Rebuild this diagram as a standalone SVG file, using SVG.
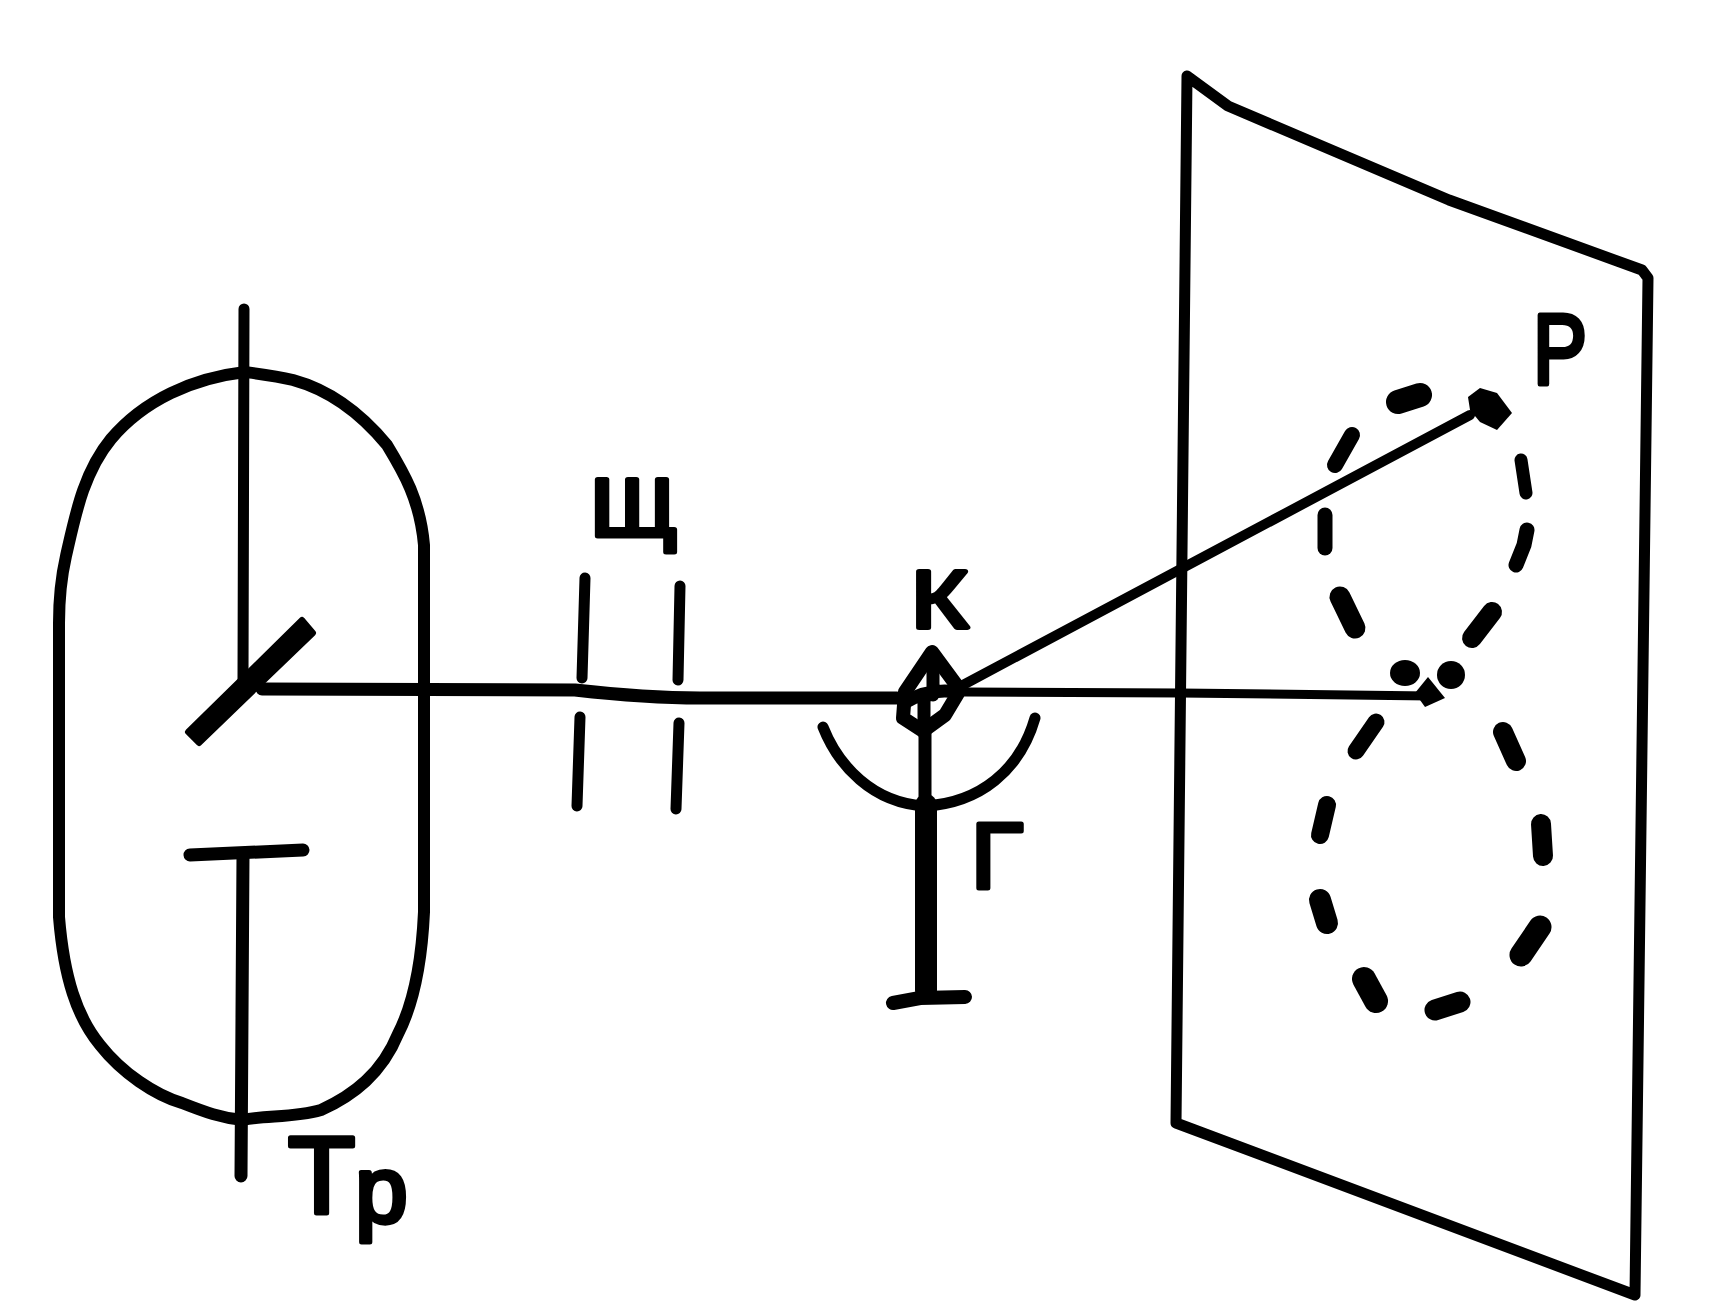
<svg xmlns="http://www.w3.org/2000/svg" width="1735" height="1304" viewBox="0 0 1735 1304">
<style>
.l{fill:none;stroke:#000;stroke-linecap:round;stroke-linejoin:round}
.t{font-family:"Liberation Sans",Arial,sans-serif;fill:#000;stroke:#000;stroke-width:5;stroke-linejoin:round}
</style>
<rect width="1735" height="1304" fill="#fff"/>
<g id="tube">
<path class="l" stroke-width="12" d="M245 372C193 378 144 400 111 439C83 473 75 517 66 556C61 578 59 600 59 623L59 917C64 978 77 1017 100 1045C122 1073 155 1095 182 1103C205 1112 221 1118 243 1120C265 1115 293 1118 321 1110C354 1095 382 1073 398 1034C415 1001 422 956 424 912L424 545C420 500 404 473 387 445C359 411 326 389 293 380C276 376 260 374 245 372Z"/>
<path class="l" stroke-width="11" d="M244 309L243 680"/>
<path d="M188 732L302 620L313 633L199 743Z" stroke="#000" stroke-width="6" stroke-linejoin="round"/>
<path class="l" stroke-width="13" d="M190 855L303 850"/>
<path class="l" stroke-width="13" d="M243 855L241 1176"/>
<text class="t" x="288" y="1213" font-size="110">Т<tspan dy="9" font-size="94">р</tspan></text>
</g>
<g id="slits">
<path class="l" stroke-width="11" d="M585 578L582 678M580 717L577 806M680 586L678 680M679 723L676 809"/>
<text class="t" x="590" y="536" font-size="82" textLength="88" lengthAdjust="spacingAndGlyphs">Щ</text>
</g>
<g id="prism">
<path class="l" stroke-width="14" d="M905 692L932 652L960 690L945 715L923 731L903 718Z"/>
<path class="l" stroke-width="13" d="M933 655L933 695M906 702C925 690 945 690 958 692M924 700L924 733"/>
<text class="t" x="911" y="628" font-size="82" textLength="57" lengthAdjust="spacingAndGlyphs">К</text>
</g>
<g id="grating">
<path class="l" stroke-width="11" d="M823 727C838 765 872 803 925 806C980 803 1020 770 1035 718"/>
<path class="l" stroke-width="13" d="M925 733L925 800"/>
<path class="l" stroke-width="22" d="M926 805L926 990"/>
<path class="l" stroke-width="14" d="M893 1003L920 998L965 997"/>
<text class="t" x="971" y="888" font-size="93" textLength="52" lengthAdjust="spacingAndGlyphs">Г</text>
</g>
<g id="screen">
<path class="l" stroke-width="11" d="M1187 76L1176 1123L1635 1295L1648 278L1642 270L1449 200L1228 106Z"/>
<text class="t" x="1533" y="384" font-size="100" textLength="54" lengthAdjust="spacingAndGlyphs">Р</text>
</g>
<g id="pattern">
<path class="l" stroke-width="24" d="M1398 402L1420 395"/>
<path class="l" stroke-width="16" d="M1352 435L1335 465"/>
<path class="l" stroke-width="15" d="M1325 515L1325 548"/>
<path class="l" stroke-width="21" d="M1340 597L1355 628"/>
<path class="l" stroke-width="20" d="M1492 612L1472 638"/>
<path class="l" stroke-width="15" d="M1527 530L1524 545L1516 565"/>
<path class="l" stroke-width="13" d="M1521 460L1526 493"/>
<ellipse cx="1405" cy="673" rx="15" ry="13"/>
<circle cx="1451" cy="675" r="14"/>
<path d="M1428 677L1445 698L1425 707L1415 693Z"/>
<path d="M1468 397L1480 388L1497 393L1512 413L1497 430L1480 422L1470 410Z"/>
<path class="l" stroke-width="17" d="M1376 722L1356 751"/>
<path class="l" stroke-width="20" d="M1503 732L1516 761"/>
<path class="l" stroke-width="18" d="M1327 805L1320 835"/>
<path class="l" stroke-width="20" d="M1541 824L1543 856"/>
<path class="l" stroke-width="22" d="M1320 900L1327 923"/>
<path class="l" stroke-width="23" d="M1540 927L1521 955"/>
<path class="l" stroke-width="24" d="M1364 979L1376 1001"/>
<path class="l" stroke-width="21" d="M1435 1010L1460 1002"/>
</g>
<g id="connectors">
<path class="l" stroke-width="13" d="M262 689L575 690C620 695 660 698 700 698L897 698"/>
<path class="l" stroke-width="9" d="M965 692L1180 693L1430 696"/>
<path class="l" stroke-width="10" d="M963 685L1470 415"/>
</g>
</svg>
